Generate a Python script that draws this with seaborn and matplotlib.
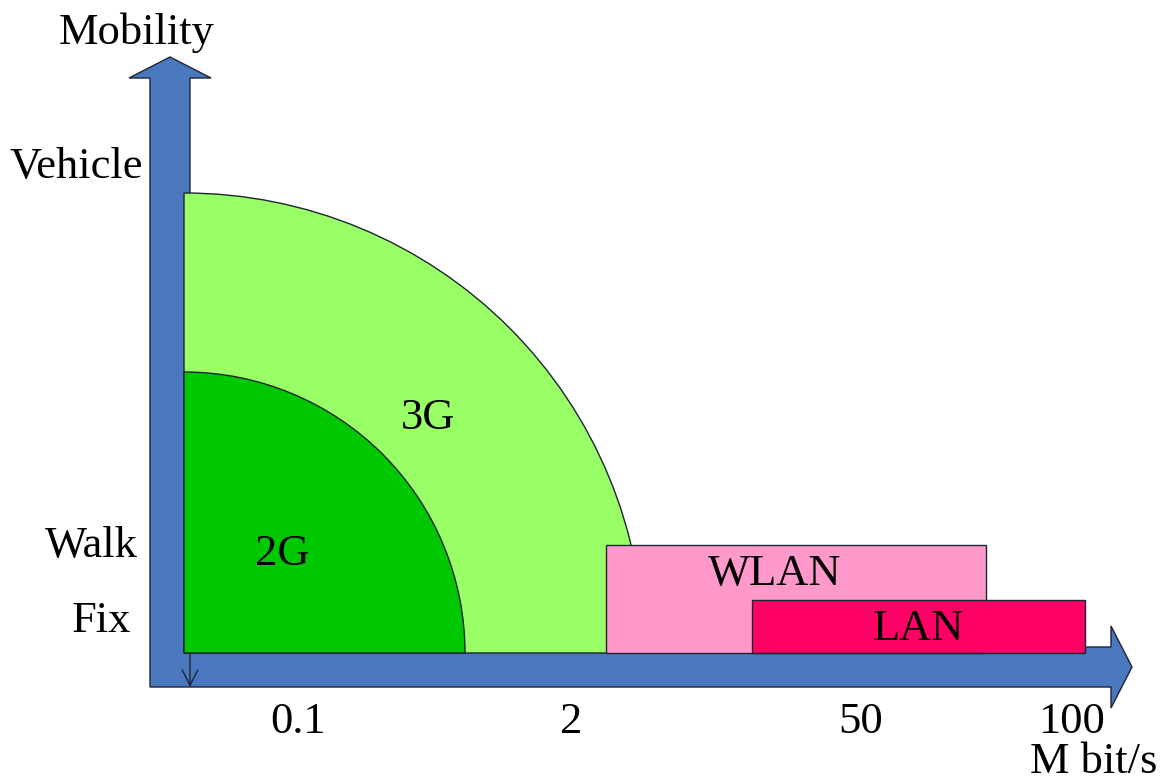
import numpy as np
import matplotlib
matplotlib.use("Agg")
import matplotlib.pyplot as plt
from matplotlib.patches import Polygon, Wedge
import seaborn as sns

# ---- diagram content -------------------------------------------------------
# cellular coverage regions (quarter discs from the origin)
cell_names = ["3G", "2G"]
cell_radius = [460, 281]
cell_colors = ["#99FF66", "#00C800"]
cell_label_xy = [(244, 224), (98, 88)]

# wired / wireless LAN bands (rate span x mobility height)
band_names = ["WLAN", "LAN"]
band_start = [422, 568]
band_end = [802, 901]
band_top = [108, 53]
band_colors = ["#FF99CC", "#FF0066"]
band_label_xy = [(591, 68), (734, 13)]

# data-rate ticks along the horizontal axis
rate_labels = ["0.1", "2", "50", "100"]
rate_pos = [114, 387, 677, 888]

# mobility levels along the vertical axis
mobility_labels = ["Vehicle", "Walk", "Fix"]
mobility_left = [-174, -139, -112]
mobility_base = [475, 96, 21]

# ---- styling ---------------------------------------------------------------
sns.set_theme(style="white")
plt.rcParams["font.family"] = ["Liberation Serif", "DejaVu Serif"]
plt.rcParams["text.color"] = "black"
FS = 32
ARROW = "#4A78BE"
EDGE = "#1E2433"

fig = plt.figure(figsize=(11.62, 7.81), dpi=100)
ax = fig.add_axes([0, 0, 1, 1])
ax.set_xlim(-184, 978)
ax.set_ylim(-128, 653)
ax.set_aspect("equal")
ax.axis("off")

# ---- axis arrows (one L-shaped outline with two heads) ----------------------
c, sh, hh, hl = -14, 20, 41, 21      # centre line, shaft half width, head half width, head length
v_head = 575                         # vertical arrow head base
h_head = 927                         # horizontal arrow head base

axes_arrow = [(c - sh, c - sh),
              (h_head, c - sh), (h_head, c - hh), (h_head + hl, c),
              (h_head, c + hh), (h_head, c + sh),
              (c + sh, c + sh),
              (c + sh, v_head), (c + hh, v_head), (c, v_head + hl),
              (c - hh, v_head), (c - sh, v_head)]
ax.add_patch(Polygon(axes_arrow, closed=True, facecolor=ARROW, edgecolor=EDGE,
                     linewidth=1.0, joinstyle="miter", zorder=3))

# ---- coverage regions --------------------------------------------------------
for name, r, col, (lx, ly) in zip(cell_names, cell_radius, cell_colors, cell_label_xy):
    ax.add_patch(Wedge((0, 0), r, 0, 90, facecolor=col, edgecolor=EDGE,
                       linewidth=1.0, zorder=4))
    ax.text(lx, ly, name, fontsize=FS, ha="center", va="baseline", zorder=6)

ax.bar(x=band_start, height=band_top,
       width=np.array(band_end) - np.array(band_start), bottom=0, align="edge",
       color=band_colors, edgecolor=EDGE, linewidth=1.0, zorder=5)
for name, (lx, ly) in zip(band_names, band_label_xy):
    ax.text(lx, ly, name, fontsize=FS, ha="center", va="baseline", zorder=6)

# small tick arrow under the origin
ax.annotate("", xy=(6, -34), xytext=(6, 0),
            arrowprops=dict(arrowstyle="->", color=EDGE, lw=1.0, mutation_scale=28,
                            shrinkA=0, shrinkB=0),
            zorder=6)

# ---- axis texts --------------------------------------------------------------
ax.text(-47, 609, "Mobility", fontsize=FS, ha="center", va="baseline", zorder=2)
for lab, lx, ly in zip(mobility_labels, mobility_left, mobility_base):
    ax.text(lx, ly, lab, fontsize=FS, ha="left", va="baseline", zorder=2)
for lab, x in zip(rate_labels, rate_pos):
    ax.text(x, -80, lab, fontsize=FS, ha="center", va="baseline", zorder=2)
ax.text(846, -120, "M bit/s", fontsize=FS, ha="left", va="baseline", zorder=2)

fig.savefig("out.png", dpi=100)
